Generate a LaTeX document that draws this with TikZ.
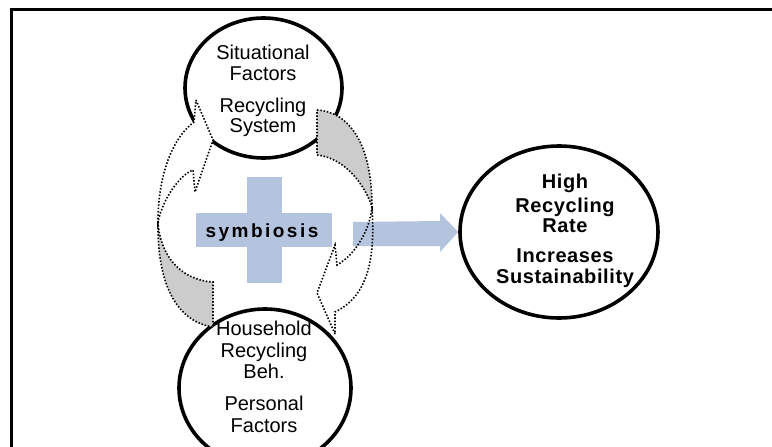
\documentclass[tikz,border=0pt]{standalone}
\usepackage{fontspec}
\setmainfont{Liberation Sans}
\newfontfamily\rfont[LetterSpace=3]{Liberation Sans}
\newfontfamily\sfont[LetterSpace=13]{Liberation Sans}
\usetikzlibrary{shapes.geometric}
\definecolor{crossblue}{RGB}{180,196,222}
\definecolor{tailgray}{RGB}{204,204,204}
\begin{document}
\begin{tikzpicture}[x=1pt,y=-1pt,
  ell/.style={ellipse, draw=black, line width=3.6pt, fill=white, inner sep=0pt},
  dotline/.style={line width=1.6pt, dash pattern=on 1.5pt off 1.8pt, black},
  lbl/.style={anchor=base, inner sep=0pt, font=\fontsize{20}{20}\selectfont},
  blbl/.style={anchor=base, inner sep=0pt, font=\rfont\bfseries\fontsize{20}{20}\selectfont},
  symlbl/.style={anchor=base, inner sep=0pt, font=\sfont\bfseries\fontsize{19}{19}\selectfont},
]
\useasboundingbox (0,0) rectangle (772,447);
\fill[white] (0,0) rectangle (772,447);
\draw[line width=2.2pt] (11.5,447) -- (11.5,9.5) -- (772,9.5);

% ellipses
\node[ell, minimum width=157pt, minimum height=140pt] (sit) at (263.5,88) {};
\node[ell, minimum width=172pt, minimum height=158pt] (hh) at (265,388) {};
\node[ell, minimum width=198pt, minimum height=172pt] (rate) at (559,232) {};

% curved arrow fills
\fill[white] (196,100) -- (213,140) -- (195,192) -- (193,170) .. controls (180,175) and (163,198) .. (158,222) .. controls (158,180) and (170,140) .. (194,122) -- cycle;
\fill[tailgray] (158,222) .. controls (160,255) and (180,280) .. (213,282) -- (213,327) .. controls (180,322) and (157,290) .. (158,222) -- cycle;
\fill[white] (335,334) -- (317,293) -- (335,245) -- (337,265) .. controls (355,255) and (370,230) .. (372,207) .. controls (375,255) and (370,295) .. (335,312) -- cycle;
\fill[tailgray] (317,110) .. controls (350,112) and (372,145) .. (372,207) .. controls (365,185) and (345,158) .. (317,155) -- cycle;

% blue cross and arrow
\fill[crossblue] (247,177) rectangle (282,283);
\fill[crossblue] (196,213) rectangle (332,247);
\coordinate (arrstart) at (353,234);
\fill[crossblue] (arrstart) ++(0,-12) -- (440,221) -- (440,213) -- (rate.west) -- (440,252) -- (440,246) -- (353,246) -- cycle;

% curved arrow outlines
\draw[dotline] (196,100) -- (213,140) -- (195,192) -- (193,170) .. controls (180,175) and (163,198) .. (158,222) .. controls (158,180) and (170,140) .. (194,122) -- cycle;
\draw[dotline] (158,222) .. controls (160,255) and (180,280) .. (213,282) -- (213,327) .. controls (180,322) and (157,290) .. (158,222) -- cycle;
\draw[dotline] (335,334) -- (317,293) -- (335,245) -- (337,265) .. controls (355,255) and (370,230) .. (372,207) .. controls (375,255) and (370,295) .. (335,312) -- cycle;
\draw[dotline] (317,110) .. controls (350,112) and (372,145) .. (372,207) .. controls (365,185) and (345,158) .. (317,155) -- cycle;

% texts
\node[lbl] (t1) at (263,59) {Situational};
\node[lbl] (t2) at (263,80) {Factors};
\node[lbl] (t3) at (263,112) {Recycling};
\node[lbl] (t4) at (263,132) {System};
\node[lbl] (t5) at (264,335) {Household};
\node[lbl] (t6) at (264,357) {Recycling};
\node[lbl] (t7) at (264,378) {Beh.};
\node[lbl] (t8) at (264,410) {Personal};
\node[lbl] (t9) at (264,432) {Factors};
\node[blbl] (t10) at (565,188) {High};
\node[blbl] (t11) at (565,212) {Recycling};
\node[blbl] (t12) at (565,232) {Rate};
\node[blbl] (t13) at (565,262) {Increases};
\node[blbl] (t14) at (565,283) {Sustainability};
\node[symlbl] (sym) at (262,237) {symbiosis};
\end{tikzpicture}
\end{document}
